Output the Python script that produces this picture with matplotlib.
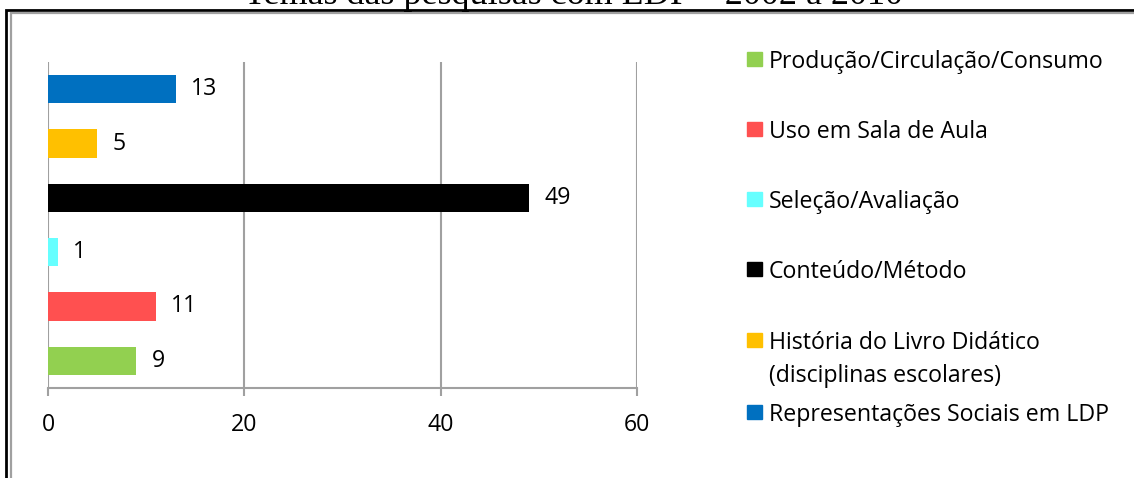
import matplotlib
matplotlib.use("Agg")
from matplotlib import pyplot as plt
from matplotlib.patches import Rectangle

# data (bottom to top as drawn)
temas = ["Produção/Circulação/Consumo", "Uso em Sala de Aula", "Seleção/Avaliação",
         "Conteúdo/Método", "História do Livro Didático\n(disciplinas escolares)",
         "Representações Sociais em LDP"]
valores = [9, 11, 1, 49, 5, 13]
cores = ["#92D050", "#FF5050", "#66FFFF", "#000000", "#FFC000", "#0070C0"]
xticks = [0, 20, 40, 60]
titulo = "Temas das pesquisas com LDP – 2002 a 2010"

plt.rcParams['font.family'] = ['Open Sans', 'DejaVu Sans']
fs = 16.7

fig = plt.figure(figsize=(11.34, 4.78), dpi=100)

# frame around the chart (runs off right and bottom)
fig.patches.append(Rectangle((6/1134, -0.1), 1.2, (478-10.5)/478 + 0.1,
                             transform=fig.transFigure, fill=False,
                             edgecolor="black", lw=2.0, zorder=0))
fig.patches.append(Rectangle((10.5/1134, -0.1), 1.2, (478-13)/478 + 0.1,
                             transform=fig.transFigure, fill=False,
                             edgecolor="#a0a0a0", lw=1.6, zorder=0))

# title is cut off by the top edge, as in the source
fig.text(573/1134, 1 - 3.5/478, titulo, ha="center", va="baseline",
         family="Liberation Serif", fontsize=26)

ax = fig.add_axes([48/1134, (478-388)/478, 589/1134, 326/478])
pos = list(range(len(valores)))
bars = ax.barh(pos, valores, height=0.52, color=cores, zorder=3)
for b, v in zip(bars, valores):
    ax.annotate(str(v), (b.get_width(), b.get_y() + b.get_height()/2),
                xytext=(11, 0), textcoords="offset points",
                va="center", ha="left", fontsize=fs)

ax.set_xlim(0, 60)
ax.set_ylim(-0.5, len(valores) - 0.5)
ax.set_xticks(xticks)
ax.set_yticks([])
ax.grid(axis="x", color="#a0a0a0", lw=1.5, zorder=0)
for s in ["top", "right", "left"]:
    ax.spines[s].set_visible(False)
ax.spines["bottom"].set_color("#a0a0a0")
ax.spines["bottom"].set_linewidth(1.5)
ax.tick_params(axis="x", length=6, width=1.5, color="#a0a0a0",
               labelsize=fs, pad=12)

# legend, top to bottom
ys = [59, 129, 199, 269, 340, 412]
for t, c, y in zip(temas, cores, ys):
    fig.patches.append(Rectangle((747/1134, 1 - (y + 7)/478), 15/1134, 14/478,
                                 transform=fig.transFigure, color=c))
    for k, ln in enumerate(t.split("\n")):
        fig.text(769/1134, 1 - (y + 33*k)/478, ln, ha="left", va="center_baseline",
                 fontsize=fs)

fig.savefig("out.png", dpi=100)
